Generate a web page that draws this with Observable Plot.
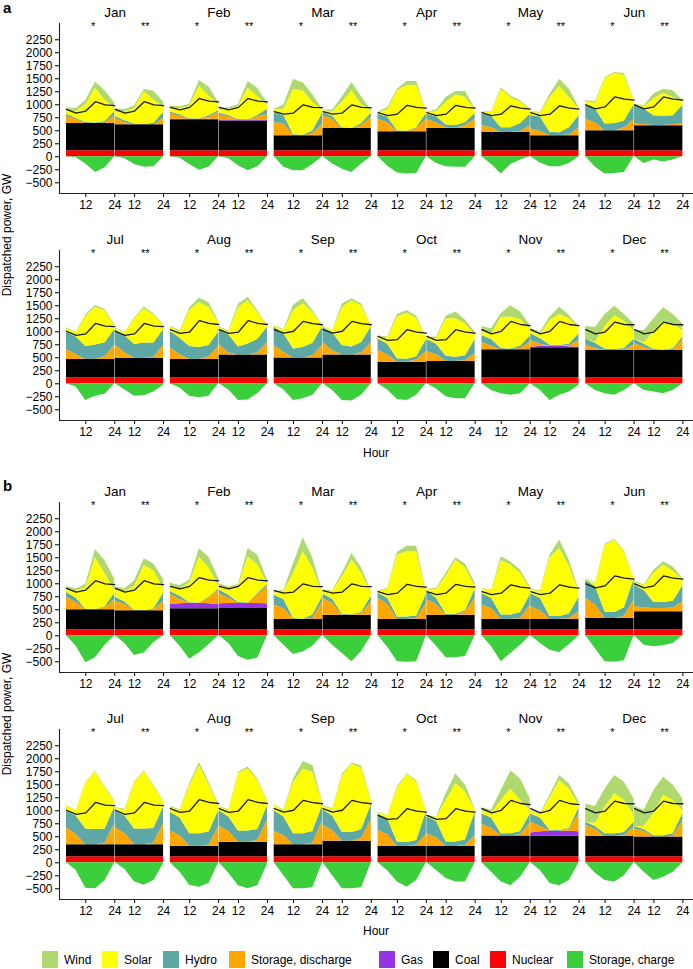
<!DOCTYPE html>
<html><head><meta charset="utf-8">
<script src="https://cdn.jsdelivr.net/npm/d3@7"></script>
<script src="https://cdn.jsdelivr.net/npm/@observablehq/plot@0.6"></script>
<style>
body{margin:0;background:#fff;font-family:"Liberation Sans",Arial,sans-serif;color:#000;}
#wrap{position:relative;width:693px;height:969px;overflow:hidden;}
.abs{position:absolute;white-space:nowrap;line-height:1;}
</style></head><body><div id="wrap"></div>
<script>
// ---------- categories / ticks ----------
const months = ["Jan","Feb","Mar","Apr","May","Jun","Jul","Aug","Sep","Oct","Nov","Dec"];
const hours = [4, 8, 12, 16, 20, 24];
const yTicks = [-500,-250,0,250,500,750,1000,1250,1500,1750,2000,2250];
const xTickHours = [12, 24];
const xTickLabels = ["12", "24"];
const dayMarks = ["*", "**"];
const seriesNames = ["Nuclear","Coal","Gas","Storage, discharge","Hydro","Solar","Wind","Storage, charge"];
const seriesColors = ["#ff0000","#000000","#9633e6","#ffa600","#5ea9a6","#ffff00","#afd86f","#3ccf3c"];
const legendOrder = ["Wind","Solar","Hydro","Storage, discharge","Gas","Coal","Nuclear","Storage, charge"];

// ---------- values (GW), hours 4..24 every 4 h; rows = Jan*,Jan**,Feb*,Feb**,... ----------
const nuclear = 115;
const demand = [
 [910,840,880,1060,1000,985],[950,900,950,1120,1070,1055],[870,820,840,1000,950,945],
 [850,790,820,990,950,935],[850,790,820,980,935,915],[1000,920,960,1150,1110,1090],
 [1010,930,960,1160,1110,1100],[1040,970,995,1215,1160,1140],[1040,975,1010,1200,1155,1135],
 [910,835,850,1040,995,975],[1040,960,1010,1200,1140,1120],[1040,960,995,1185,1140,1135]];

// ----- scenario a -----
const coalA = [525,500, 595,575, 290,430, 365,435, 353,290, 385,480, 353,370, 353,440, 380,440, 300,315, 540,577, 525,525];
const gasA = [
 [0,0,0,0,0,0],[0,0,0,0,0,0],[10,10,10,10,10,10],[15,15,15,15,15,15],[0,0,0,0,0,0],[0,0,0,0,0,0],
 [0,0,0,0,0,0],[0,0,0,0,0,0],[0,0,0,0,0,0],[0,0,0,0,0,0],[0,0,0,0,0,0],[0,0,0,0,0,0],
 [0,0,0,0,0,0],[0,0,0,0,0,0],[0,0,0,0,0,0],[0,0,0,0,0,0],[0,0,0,0,0,0],[0,0,0,0,0,0],
 [0,0,0,0,0,0],[0,0,0,0,0,0],[0,0,0,0,0,0],[10,25,30,30,20,10],[0,0,0,0,0,0],[0,0,0,0,0,0]];
const dischA = [
 [140,80,0,0,10,150],[120,40,0,0,0,120],[110,60,0,0,40,140],[100,60,0,0,60,110],
 [250,230,0,0,40,230],[245,175,0,0,55,215],[240,170,0,0,60,240],[170,100,10,0,50,170],
 [130,90,0,0,20,130],[130,80,5,0,15,155],[220,150,0,0,60,220],[35,25,5,5,25,35],
 [190,90,0,0,50,280],[250,110,0,0,30,250],[220,90,0,0,50,250],[200,40,0,0,40,240],
 [245,105,0,0,45,245],[240,80,0,0,40,240],[225,145,0,0,45,205],[190,130,0,0,20,150],
 [145,65,0,0,25,145],[130,45,0,0,20,130],[100,40,0,0,10,100],[130,60,0,0,20,210]];
const hydroA = [
 [40,20,20,10,30,80],[40,40,15,5,30,120],[30,30,10,5,30,30],[30,30,10,5,30,100],
 [190,160,20,10,50,200],[60,60,15,5,40,80],[100,110,20,10,20,110],[100,120,50,50,60,110],
 [230,220,90,90,150,220],[260,280,60,56,140,230],[290,270,130,140,130,280],[350,300,190,180,170,360],
 [340,340,250,280,270,300],[300,330,270,300,270,310],[320,320,250,230,220,280],[290,350,150,210,260,290],
 [350,360,175,205,240,350],[290,340,180,150,200,300],[220,200,65,55,60,230],[230,200,100,80,90,270],
 [130,130,25,15,40,120],[130,110,20,20,30,130],[120,100,30,20,30,120],[80,60,20,10,20,50]];
const solarA = [
 [60,130,340,670,400,60],[80,160,300,630,440,100],[70,120,240,630,370,110],[60,120,250,610,360,80],
 [50,120,870,850,550,60],[40,80,490,720,360,30],[30,140,770,880,810,40],[30,100,435,586,480,70],
 [30,80,740,580,410,80],[60,70,670,890,580,130],[50,110,870,960,880,80],[20,40,320,440,350,60],
 [60,80,580,730,610,70],[20,50,490,660,540,70],[80,120,700,860,730,180],[30,50,760,830,520,20],
 [20,60,740,840,590,20],[10,40,730,890,700,20],[50,120,800,890,730,30],[30,110,720,740,610,90],
 [70,100,600,610,510,130],[50,70,480,590,490,100],[0,20,430,650,520,140],[10,30,340,550,470,120]];
const windA = [
 [60,60,80,120,190,100],[70,50,50,50,170,100],[40,30,40,110,180,40],[40,30,40,130,160,40],
 [20,80,190,160,150,20],[10,40,100,160,150,30],[10,50,30,80,80,10],[10,30,95,70,116,30],
 [10,10,30,30,30,20],[10,20,60,140,160,30],[20,30,25,20,30,20],[10,20,95,80,130,30],
 [20,10,30,30,30,20],[20,10,20,30,20,20],[20,20,40,90,90,20],[20,20,70,70,30,10],
 [10,20,100,100,40,10],[10,10,70,40,40,10],[10,20,50,50,50,10],[10,30,50,130,70,50],
 [100,110,70,220,150,70],[50,50,60,140,60,30],[240,280,230,180,130,150],[170,230,250,260,180,130]];
const chargeA = [
 [0,-20,-140,-300,-210,0],[0,-40,-150,-200,-190,0],[0,-30,-150,-260,-200,0],[0,-40,-170,-270,-190,0],
 [0,-200,-270,-270,-150,0],[0,-140,-240,-300,-140,0],[0,-180,-310,-330,-320,0],[0,-130,-190,-200,-200,0],
 [0,-150,-330,-150,-60,0],[0,-120,-190,-190,-130,0],[0,-200,-330,-320,-300,0],[0,-130,-60,-100,-60,0],
 [0,-60,-320,-240,-200,0],[0,-120,-240,-230,-160,-30],[0,-80,-240,-270,-240,0],[0,-120,-320,-310,-190,0],
 [0,-120,-320,-290,-220,0],[0,-130,-320,-330,-220,0],[0,-120,-300,-320,-220,0],[0,-100,-250,-290,-290,0],
 [0,-130,-190,-220,-190,0],[0,-130,-320,-220,-160,-30],[0,-130,-190,-220,-130,0],[0,-130,-160,-190,-130,0]];

// ----- scenario b -----
const coalB = [385,365, 405,410, 200,282, 200,282, 200,200, 218,347, 230,230, 205,282, 230,300, 200,200, 400,400, 390,380];
const gasB = [
 [0,0,0,0,0,0],[0,0,0,0,0,0],[80,95,105,105,95,80],[90,95,95,95,95,90],[0,0,0,0,0,0],[0,0,0,0,0,0],
 [0,0,0,0,0,0],[0,0,0,0,0,0],[0,0,0,0,0,0],[0,0,0,0,0,0],[0,0,0,0,0,0],[0,0,0,0,0,0],
 [0,0,0,0,0,0],[0,0,0,0,0,0],[0,0,0,0,0,0],[0,0,0,0,0,0],[0,0,0,0,0,0],[0,0,0,0,0,0],
 [0,0,0,0,0,0],[0,0,0,0,0,0],[0,0,0,0,0,0],[60,80,90,90,90,80],[0,0,0,0,0,0],[0,0,0,0,0,0]];
const dischB = [
 [240,140,0,0,40,200],[190,120,0,0,20,180],[200,85,0,0,105,280],[195,100,0,0,180,325],
 [275,205,0,0,15,335],[320,225,0,0,25,255],[405,285,0,0,15,305],[295,205,0,0,55,325],
 [275,205,0,0,15,275],[245,165,0,0,15,145],[385,265,0,0,45,355],[100,70,65,65,70,190],
 [325,205,0,0,35,405],[335,215,0,0,35,405],[290,200,0,0,20,370],[305,205,0,0,35,415],
 [255,175,0,0,35,465],[305,205,0,0,55,415],[305,225,0,0,25,225],[245,165,0,0,15,215],
 [225,145,0,0,25,245],[205,105,0,0,35,345],[215,135,0,0,15,185],[155,105,0,0,15,315]];
const hydroB = [
 [90,80,10,5,20,120],[70,50,10,5,20,160],[50,60,10,5,20,20],[70,60,20,10,20,40],
 [190,180,15,5,70,100],[80,80,15,5,30,110],[100,120,45,45,50,180],[160,120,15,15,30,180],
 [220,200,85,85,120,200],[250,240,55,55,90,280],[350,350,125,115,160,410],[410,340,115,115,130,310],
 [330,350,305,295,270,330],[320,340,305,305,280,330],[360,340,240,240,250,310],[300,280,215,215,210,290],
 [400,360,215,215,220,290],[300,280,165,165,170,290],[320,300,85,75,90,440],[320,320,85,85,110,450],
 [200,200,45,45,60,180],[160,160,15,15,20,120],[60,60,55,55,60,90],[50,40,25,25,50,140]];
const solarB = [
 [70,140,420,995,630,50],[140,200,460,865,730,80],[110,140,380,885,560,60],[80,120,310,890,540,20],
 [40,150,870,1295,900,80],[50,160,720,1055,750,60],[30,180,1190,1255,1230,40],[30,170,740,1040,820,50],
 [90,150,1050,960,750,120],[70,130,1130,1310,910,120],[20,50,1280,1390,1070,10],[50,90,560,720,580,110],
 [90,100,890,1110,790,100],[50,110,890,1110,810,90],[90,140,920,1310,910,100],[70,120,1110,1190,950,70],
 [100,120,990,1240,1140,50],[70,120,1090,1320,1180,80],[20,60,1030,1310,1130,30],[20,70,800,1120,920,40],
 [60,90,640,860,600,60],[50,70,630,960,760,40],[0,60,510,770,620,140],[0,60,430,780,640,50]];
const windB = [
 [50,40,60,160,250,220],[70,50,110,130,130,180],[50,60,60,160,210,140],[40,40,30,160,190,70],
 [30,20,190,270,190,20],[30,10,70,125,100,30],[10,20,50,105,110,10],[10,20,50,50,80,60],
 [10,10,70,60,60,30],[10,20,50,160,120,20],[10,10,20,20,20,10],[20,20,60,60,80,20],
 [10,10,10,10,20,20],[10,20,20,15,20,20],[20,20,40,60,50,30],[10,20,20,40,30,20],
 [10,20,60,150,130,20],[10,20,30,20,40,20],[10,10,30,10,20,10],[10,10,130,190,130,20],
 [60,60,190,350,410,230],[10,20,50,100,100,70],[350,320,350,350,350,310],[380,310,440,350,290,230]];
const chargeB = [
 [0,-200,-520,-420,-180,0],[0,-150,-380,-330,-130,0],[0,-200,-450,-330,-170,0],[0,-150,-400,-470,-430,0],
 [0,-180,-360,-310,-200,0],[0,-180,-340,-500,-300,0],[0,-220,-500,-510,-500,0],[0,-200,-420,-420,-400,0],
 [0,-210,-500,-340,-180,0],[0,-150,-280,-320,-170,0],[0,-250,-500,-510,-480,0],[0,-180,-210,-190,-150,0],
 [0,-150,-490,-500,-340,0],[0,-130,-370,-430,-340,-20],[0,-180,-430,-470,-400,0],[0,-200,-440,-500,-440,-30],
 [0,-250,-500,-500,-480,0],[0,-250,-500,-500,-480,0],[0,-160,-370,-470,-340,0],[0,-150,-300,-370,-370,0],
 [0,-180,-370,-440,-280,0],[0,-150,-400,-440,-340,0],[0,-200,-340,-370,-250,0],[0,-180,-340,-280,-180,0]];

// ---------- layout ----------
const MONTH_STEP = 43, DAY_OFFSET = 20.2;
const X_DOMAIN = [1.1, 263.6];
const Y_DOMAIN = [-706, 2563];
const wrap = document.getElementById("wrap");
const FONT = '"Liberation Sans", Arial, Helvetica, sans-serif';
const xPos = (slot, day, h) => slot * MONTH_STEP + day * DAY_OFFSET + h;
const fmtY = d => d < 0 ? "\u2212" + Math.abs(d) : String(d);

function rowPlot(sc, start, top, marginTop) {
  const rows = [], neg = [], dem = [], labels = [], stars = [], ticks = [], tickLab = new Map();
  for (let s = 0; s < 6; s++) {
    const m = start + s;
    labels.push({x: xPos(s, 0, 24.1), text: months[m]});
    for (let d = 0; d < 2; d++) {
      const k = m * 2 + d;
      const vals = {
        "Nuclear": hours.map(() => nuclear),
        "Coal": hours.map(() => sc.coal[k]),
        "Gas": sc.gas[k],
        "Storage, discharge": sc.disch[k],
        "Hydro": sc.hydro[k],
        "Solar": sc.solar[k],
        "Wind": sc.wind[k]
      };
      for (const name of seriesNames.slice(0, 7))
        hours.forEach((h, i) => rows.push({x: xPos(s, d, h), y: vals[name][i], series: name, key: name + "-" + k}));
      hours.forEach((h, i) => neg.push({x: xPos(s, d, h), y: sc.charge[k][i], series: "Storage, charge", key: "c" + k}));
      hours.forEach((h, i) => dem.push({x: xPos(s, d, h), y: demand[m][i], key: "d" + k}));
      stars.push({x: xPos(s, d, d ? 16.4 : 15), text: dayMarks[d]});
      xTickHours.forEach((h, i) => { const p = xPos(s, d, h); ticks.push(p); tickLab.set(p, xTickLabels[i]); });
    }
  }
  const marginBottom = 30;
  const svg = Plot.plot({
    width: 693, height: marginTop + 170 + marginBottom,
    marginTop, marginBottom, marginLeft: 59, marginRight: 0,
    style: {fontFamily: FONT, fontSize: "12px", color: "#000", background: "transparent", overflow: "visible"},
    x: {domain: X_DOMAIN, ticks, tickFormat: d => tickLab.get(d), tickSize: 4, tickPadding: 3, label: null},
    y: {domain: Y_DOMAIN, ticks: yTicks, tickFormat: fmtY, tickSize: 4, tickPadding: 3, label: null},
    color: {domain: seriesNames, range: seriesColors},
    marks: [
      Plot.areaY(rows, {x: "x", y: "y", z: "key", fill: "series"}),
      Plot.areaY(neg, {x: "x", y: "y", z: "key", fill: "series"}),
      Plot.lineY(dem, {x: "x", y: "y", z: "key", stroke: "#1a1a1a", strokeWidth: 1.3}),
      Plot.ruleX([X_DOMAIN[0]], {stroke: "#222", strokeWidth: 1.1}),
      Plot.ruleY([Y_DOMAIN[0]], {stroke: "#222", strokeWidth: 1.1}),
      Plot.text(labels, {x: "x", text: "text", frameAnchor: "top", dy: -16.5, fontSize: 13.5, fontWeight: "normal"}),
      Plot.text(stars, {x: "x", text: "text", frameAnchor: "top", dy: -1, fontSize: 11})
    ]
  });
  svg.style.position = "absolute";
  svg.style.left = "0px";
  svg.style.top = top + "px";
  wrap.appendChild(svg);
}

const scA = {coal: coalA, gas: gasA, disch: dischA, hydro: hydroA, solar: solarA, wind: windA, charge: chargeA};
const scB = {coal: coalB, gas: gasB, disch: dischB, hydro: hydroB, solar: solarB, wind: windB, charge: chargeB};
rowPlot(scA, 0, 0, 23);
rowPlot(scA, 6, 226, 24);
rowPlot(scB, 0, 479, 23);
rowPlot(scB, 6, 706, 23);

function addText(txt, x, y, css) {
  const el = document.createElement("div");
  el.className = "abs";
  el.textContent = txt;
  el.style.left = x + "px"; el.style.top = y + "px";
  Object.assign(el.style, css || {});
  wrap.appendChild(el);
  return el;
}
addText("a", 3, 0, {fontSize: "15px", fontWeight: "bold"});
addText("b", 3, 478, {fontSize: "15px", fontWeight: "bold"});
addText("Dispatched power, GW", 7, 235, {fontSize: "12px", transform: "translate(-50%,-50%) rotate(-90deg)"});
addText("Dispatched power, GW", 7, 714, {fontSize: "12px", transform: "translate(-50%,-50%) rotate(-90deg)"});
addText("Hour", 376, 453, {fontSize: "12px", transform: "translate(-50%,-50%)"});
addText("Hour", 376, 931, {fontSize: "12px", transform: "translate(-50%,-50%)"});

// legend
const legendX = [42, 102, 163, 229, 379, 433, 490, 567];
legendOrder.forEach((name, i) => {
  const sw = document.createElement("div");
  sw.className = "abs";
  Object.assign(sw.style, {left: legendX[i] + "px", top: "951px", width: "16px", height: "17px",
    background: seriesColors[seriesNames.indexOf(name)]});
  wrap.appendChild(sw);
  addText(name, legendX[i] + 22, 959.5, {fontSize: "12px", transform: "translateY(-50%)"});
});
</script></body></html>
